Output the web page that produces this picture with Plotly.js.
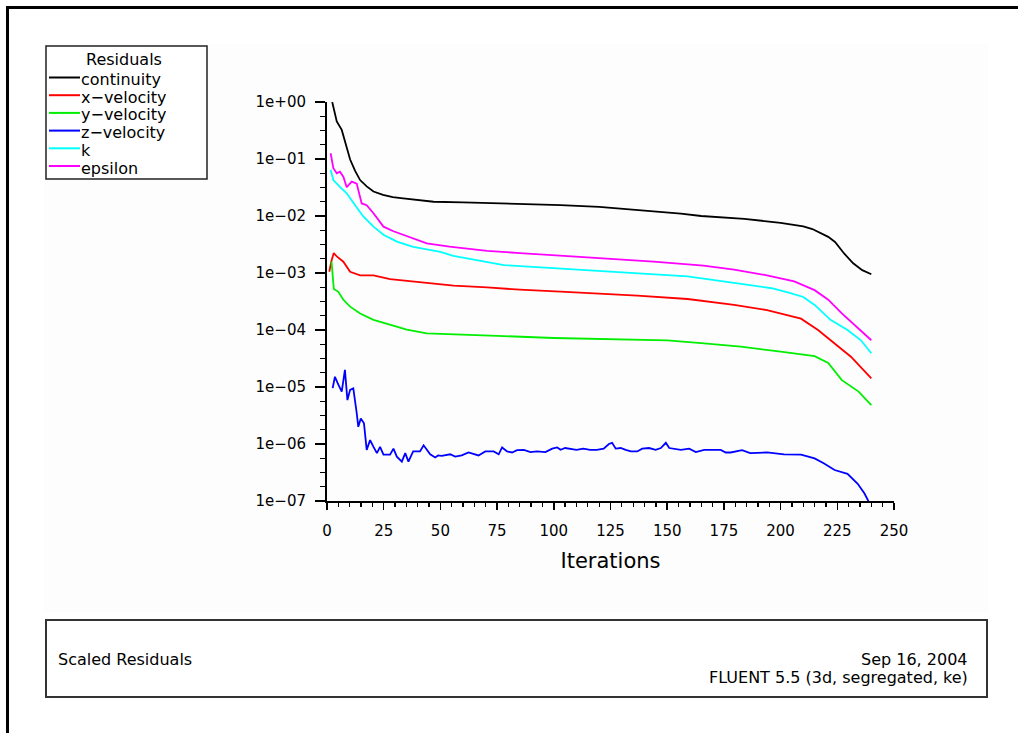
<!DOCTYPE html>
<html>
<head>
<meta charset="utf-8">
<script src="https://cdn.plot.ly/plotly-3.0.1.min.js"></script>
<style>
  html, body { margin: 0; padding: 0; background: #ffffff; overflow: hidden; }
  #wrap { position: relative; width: 1018px; height: 733px; }
  #chart { width: 1018px; height: 733px; }
  #edge { position: absolute; left: 1009px; top: 10px; width: 12px; height: 730px; background: #ffffff; z-index: 10; }
</style>
</head>
<body>
<div id="wrap"><div id="chart"></div><div id="edge"></div></div>
<script>
// ---------------- data ----------------
const seriesNames  = ["continuity", "x\u2212velocity", "y\u2212velocity", "z\u2212velocity", "k", "epsilon"];
const seriesColors = ["#000000", "#ff0000", "#00ee00", "#0000ff", "#00ffff", "#ff00ff"];

const iterContinuity = [2.3, 3.6, 4.3, 6.5, 8, 10.2, 12.4, 14.6, 17.5, 20.5, 24.7, 29, 33.6, 41, 47, 60, 78, 90, 103, 120, 135, 146, 156, 165, 184, 200, 210, 214, 218, 221, 224, 228, 232, 236, 240];
const resContinuity  = [1.0, 0.56, 0.457, 0.324, 0.204, 0.098, 0.0617, 0.0427, 0.0331, 0.0269, 0.0234, 0.0214, 0.0204, 0.0191, 0.0178, 0.0174, 0.0166, 0.0162, 0.0155, 0.0145, 0.0129, 0.0120, 0.0110, 0.0100, 0.0089, 0.0076, 0.0066, 0.0059, 0.0050, 0.0043, 0.0035, 0.0022, 0.00148, 0.00112, 0.00095];

const iterXVel = [1, 2, 3, 4.3, 7.2, 10.2, 14.6, 20.5, 27.8, 42.5, 55.8, 70.6, 85, 103, 117.6, 136.8, 159, 179.5, 194, 209, 216.5, 223.8, 231, 240];
const resXVel  = [0.00105, 0.00166, 0.00224, 0.00195, 0.00158, 0.00105, 0.00091, 0.00091, 0.00078, 0.00069, 0.00060, 0.00056, 0.00051, 0.00047, 0.00044, 0.00040, 0.00035, 0.000275, 0.000224, 0.000158, 0.000100, 0.000059, 0.000034, 0.0000141];

const iterYVel = [2, 3, 5, 7.2, 10.2, 14.6, 20.5, 27.8, 35.2, 44, 50, 75, 100, 150, 165, 182.5, 200, 215, 221, 227, 234.4, 240];
const resYVel  = [0.00158, 0.000525, 0.000468, 0.000339, 0.000257, 0.000195, 0.000151, 0.000123, 0.000102, 0.000087, 0.000085, 0.000079, 0.0000724, 0.000066, 0.000059, 0.000051, 0.0000417, 0.0000347, 0.0000263, 0.0000132, 0.0000083, 0.0000048];

const iterZVel = [2.5, 3.5, 5, 6.5, 7.9, 9, 10.2, 11.6, 13.1, 13.8, 14.9, 16.3, 17.5, 19, 20.5, 22, 23.4, 24.9, 27.8, 29.3, 30.8, 33, 34.5, 35.9, 38, 41, 42.6, 44, 45.5, 47.7, 49, 50.6, 54.3, 56.5, 59.4, 62.4, 64.6, 66.8, 69.8, 73.5, 75.7, 77.2, 79.4, 81.6, 83.8, 86.8, 89.7, 92.6, 96.3, 99.3, 101.5, 103, 105, 107.3, 110, 113, 116, 119, 122, 124.3, 125.7, 127.3, 129.5, 131.7, 134, 136.8, 139, 142, 144.9, 147.2, 149.4, 150.9, 153, 156, 159.7, 162.6, 166.3, 173.6, 175.8, 178, 183, 186.6, 194, 201.5, 209, 215, 219, 223.8, 229.5, 234, 237, 239, 240];
const resZVel  = [9.55e-6, 1.51e-5, 1.10e-5, 8.3e-6, 2.0e-5, 5.9e-6, 8.9e-6, 9.5e-6, 3.5e-6, 2.0e-6, 2.8e-6, 2.3e-6, 7.9e-7, 1.17e-6, 8.9e-7, 6.9e-7, 8.9e-7, 6.5e-7, 6.5e-7, 8.3e-7, 6.0e-7, 4.9e-7, 6.9e-7, 4.9e-7, 7.4e-7, 7.4e-7, 9.5e-7, 7.8e-7, 6.6e-7, 5.8e-7, 6.3e-7, 6.2e-7, 6.6e-7, 6.0e-7, 6.3e-7, 7.1e-7, 6.6e-7, 6.3e-7, 7.4e-7, 7.4e-7, 6.6e-7, 8.7e-7, 7.4e-7, 7.1e-7, 7.8e-7, 7.9e-7, 7.2e-7, 7.4e-7, 7.2e-7, 8.3e-7, 8.7e-7, 7.9e-7, 8.5e-7, 8.3e-7, 7.9e-7, 8.3e-7, 7.9e-7, 7.9e-7, 8.3e-7, 1.0e-6, 1.05e-6, 8.3e-7, 8.5e-7, 7.9e-7, 7.4e-7, 7.4e-7, 8.3e-7, 8.5e-7, 7.9e-7, 8.5e-7, 1.05e-6, 8.5e-7, 8.3e-7, 7.9e-7, 8.3e-7, 7.2e-7, 7.9e-7, 7.9e-7, 7.1e-7, 7.1e-7, 7.8e-7, 6.9e-7, 7.1e-7, 6.6e-7, 6.5e-7, 5.6e-7, 4.6e-7, 3.5e-7, 3.0e-7, 2.0e-7, 1.35e-7, 9.8e-8, 7.9e-8];

const iterK = [1.6, 2.8, 5.7, 8.7, 12.4, 16, 20.5, 24.9, 30.8, 38, 50, 55.7, 78, 104, 129, 159, 181, 196, 204, 210, 215, 222, 229.5, 235.4, 240];
const resK  = [0.0646, 0.0427, 0.0324, 0.0251, 0.0155, 0.0098, 0.0065, 0.0047, 0.00355, 0.00288, 0.00234, 0.0020, 0.00138, 0.0012, 0.00102, 0.00087, 0.00066, 0.00054, 0.00045, 0.00038, 0.000275, 0.000151, 0.0001, 0.000066, 0.000039];

const iterEps = [1.6, 2.8, 4.3, 5.7, 7.2, 8.7, 10.9, 13.1, 15.3, 17.5, 20.5, 24.9, 29.3, 35.2, 44, 54, 70.6, 85, 109, 122, 144, 166, 179.5, 194, 206, 215, 221, 227, 232.5, 237, 240];
const resEps  = [0.126, 0.069, 0.056, 0.060, 0.049, 0.032, 0.040, 0.037, 0.0166, 0.0155, 0.0112, 0.0065, 0.0054, 0.0044, 0.0033, 0.0029, 0.00245, 0.00224, 0.00195, 0.00178, 0.00158, 0.00135, 0.00115, 0.00091, 0.00071, 0.00050, 0.00034, 0.000195, 0.000123, 0.000087, 0.000066];

const xTickVals = [0, 25, 50, 75, 100, 125, 150, 175, 200, 225, 250];
const xTickText = ["0", "25", "50", "75", "100", "125", "150", "175", "200", "225", "250"];
const yTickVals = [1e-7, 1e-6, 1e-5, 1e-4, 1e-3, 1e-2, 1e-1, 1];
const yTickText = ["1e\u221207", "1e\u221206", "1e\u221205", "1e\u221204", "1e\u221203", "1e\u221202", "1e\u221201", "1e+00"];

const legendTitle = "Residuals";
const footerLeft = "Scaled Residuals";
const footerDate = "Sep 16, 2004";
const footerVersion = "FLUENT 5.5 (3d, segregated, ke)";
const xTitle = "Iterations";

// ---------------- geometry ----------------
const W = 1018, H = 733;
const M = {l: 327, r: 124, t: 102, b: 232};
const PW = W - M.l - M.r, PH = H - M.t - M.b;
const px2x = px => (px - M.l) / PW;
const px2y = py => (H - M.b - py) / PH;

const seriesX = [iterContinuity, iterXVel, iterYVel, iterZVel, iterK, iterEps];
const seriesY = [resContinuity, resXVel, resYVel, resZVel, resK, resEps];

const traces = seriesNames.map((n, i) => ({
  type: "scatter", mode: "lines", name: n,
  x: seriesX[i], y: seriesY[i],
  line: {color: seriesColors[i], width: 1.8},
  showlegend: false, hoverinfo: "skip"
}));

// minor tick positions on the log axis: quarter decades
const yMinor = [];
for (let d = -7; d < 0; d++) {
  for (let q = 1; q < 4; q++) yMinor.push(Math.pow(10, d + q / 4));
}

const FONT = "DejaVu Sans, Liberation Sans, Arial, sans-serif";

const shapes = [];
const annotations = [];

// faint panel
shapes.push({type: "rect", xref: "paper", yref: "paper",
  x0: px2x(44), x1: px2x(988), y0: px2y(612), y1: px2y(44),
  line: {width: 0}, fillcolor: "#fdfdfd", layer: "below"});
// outer page border (only left and top are visible)
shapes.push({type: "line", xref: "paper", yref: "paper",
  x0: px2x(7.5), x1: px2x(1018), y0: px2y(7.5), y1: px2y(7.5),
  line: {color: "#000", width: 3}});
shapes.push({type: "line", xref: "paper", yref: "paper",
  x0: px2x(7.5), x1: px2x(7.5), y0: px2y(6), y1: px2y(733),
  line: {color: "#000", width: 3}});

// legend box
shapes.push({type: "rect", xref: "paper", yref: "paper",
  x0: px2x(46), x1: px2x(207), y0: px2y(179), y1: px2y(46),
  line: {color: "#222", width: 1.5}, fillcolor: "#ffffff", layer: "below"});
annotations.push({xref: "paper", yref: "paper", x: px2x(124), y: px2y(60),
  text: legendTitle, showarrow: false, xanchor: "center", yanchor: "middle",
  height: 17, borderpad: 0,
  font: {family: FONT, size: 16, color: "#000"}});
seriesNames.forEach((n, i) => {
  const yy = 77.5 + i * 17.7;
  shapes.push({type: "line", xref: "paper", yref: "paper",
    x0: px2x(49), x1: px2x(80), y0: px2y(yy), y1: px2y(yy),
    line: {color: seriesColors[i], width: 2}});
  annotations.push({xref: "paper", yref: "paper", x: px2x(80), y: px2y(yy + 2),
    text: n, showarrow: false, xanchor: "left", yanchor: "middle",
    height: 17, borderpad: 0,
    font: {family: FONT, size: 16, color: "#000"}});
});

// footer box
shapes.push({type: "rect", xref: "paper", yref: "paper",
  x0: px2x(46), x1: px2x(987), y0: px2y(697), y1: px2y(620),
  line: {color: "#333", width: 2}, fillcolor: "#ffffff", layer: "below"});
annotations.push({xref: "paper", yref: "paper", x: px2x(56), y: px2y(659),
  text: footerLeft, showarrow: false, xanchor: "left", yanchor: "middle",
  font: {family: FONT, size: 16, color: "#000"}});
annotations.push({xref: "paper", yref: "paper", x: px2x(970), y: px2y(659),
  text: footerDate, showarrow: false, xanchor: "right", yanchor: "middle",
  font: {family: FONT, size: 16, color: "#000"}});
annotations.push({xref: "paper", yref: "paper", x: px2x(970), y: px2y(677),
  text: footerVersion, showarrow: false, xanchor: "right", yanchor: "middle",
  font: {family: FONT, size: 16, color: "#000"}});

const layout = {
  width: W, height: H,
  margin: M,
  paper_bgcolor: "#ffffff",
  plot_bgcolor: "rgba(0,0,0,0)",
  showlegend: false,
  xaxis: {
    range: [0, 250], type: "linear",
    tickmode: "array", tickvals: xTickVals, ticktext: xTickText,
    ticks: "outside", ticklen: 7, tickwidth: 1.5, tickcolor: "#000",
    minor: {dtick: 5, tick0: 0, ticks: "outside", ticklen: 4, tickwidth: 1.3, tickcolor: "#000", showgrid: false},
    showline: true, linecolor: "#000", linewidth: 2,
    showgrid: false, zeroline: false,
    ticklabelstandoff: 8,
    tickfont: {family: FONT, size: 15, color: "#000"},
    title: {text: xTitle, font: {family: FONT, size: 21, color: "#000"}, standoff: 14},
    automargin: false
  },
  yaxis: {
    type: "log", range: [-7, 0],
    tickmode: "array", tickvals: yTickVals, ticktext: yTickText,
    ticks: "outside", ticklen: 10, tickwidth: 1.5, tickcolor: "#000",
    minor: {tickmode: "array", tickvals: yMinor, ticks: "outside", ticklen: 5, tickwidth: 1.3, tickcolor: "#000", showgrid: false},
    showline: true, linecolor: "#000", linewidth: 2,
    showgrid: false, zeroline: false,
    ticklabelstandoff: 6,
    tickfont: {family: FONT, size: 15, color: "#000"},
    automargin: false
  },
  shapes: shapes,
  annotations: annotations
};

Plotly.newPlot("chart", traces, layout, {staticPlot: true, displayModeBar: false});
</script>
</body>
</html>
